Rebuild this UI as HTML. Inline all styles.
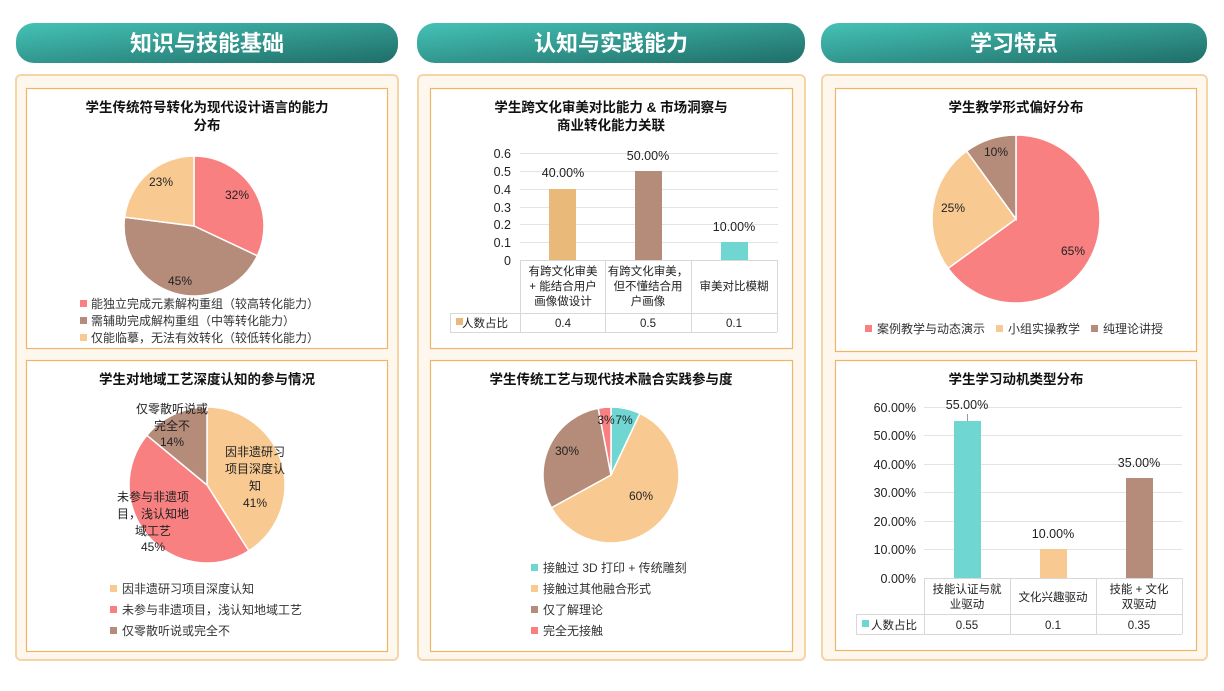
<!DOCTYPE html>
<html><head><meta charset="utf-8"><style>
body{margin:0;width:1224px;height:686px;background:#fff;font-family:"Liberation Sans","Noto Sans CJK SC",sans-serif;overflow:hidden}
svg text{font-family:"Liberation Sans","Noto Sans CJK SC",sans-serif}
</style></head><body>
<svg width="1224" height="686" viewBox="0 0 1224 686" xmlns="http://www.w3.org/2000/svg">
<defs>
<linearGradient id="hg" x1="0" y1="0" x2="1" y2="1"><stop offset="0" stop-color="#45c2b6"/><stop offset="1" stop-color="#1f6e68"/></linearGradient>
</defs>
<!-- headers -->
<g fill="url(#hg)">
<rect x="16" y="23" width="382" height="40" rx="18"/>
<rect x="417" y="23" width="388" height="40" rx="18"/>
<rect x="821" y="23" width="386" height="40" rx="18"/>
</g>
<g fill="#fff" font-size="22" font-weight="bold" text-anchor="middle">
<text x="207" y="51">知识与技能基础</text>
<text x="611" y="51">认知与实践能力</text>
<text x="1014" y="51">学习特点</text>
</g>
<!-- outer panels -->
<g fill="#fdf7ee" stroke="#f3d5a8" stroke-width="2">
<rect x="16" y="75" width="382" height="585" rx="5"/>
<rect x="418" y="75" width="387" height="585" rx="5"/>
<rect x="822" y="75" width="385" height="585" rx="5"/>
</g>
<!-- inner boxes -->
<g fill="#fff" stroke="#f0b466" stroke-width="1.2">
<rect x="26.5" y="88.5" width="361" height="260"/>
<rect x="26.5" y="360.5" width="361" height="291"/>
<rect x="430.5" y="88.5" width="362" height="260"/>
<rect x="430.5" y="360.5" width="362" height="291"/>
<rect x="835.5" y="88.5" width="361" height="263"/>
<rect x="835.5" y="360.5" width="361" height="290"/>
</g>
<g font-size="13.5" font-weight="bold" fill="#111" text-anchor="middle">
<text x="207" y="112">学生传统符号转化为现代设计语言的能力</text>
<text x="207" y="130">分布</text>
<text x="207" y="384">学生对地域工艺深度认知的参与情况</text>
<text x="611" y="112">学生跨文化审美对比能力 &amp; 市场洞察与</text>
<text x="611" y="130">商业转化能力关联</text>
<text x="611" y="384">学生传统工艺与现代技术融合实践参与度</text>
<text x="1016" y="112">学生教学形式偏好分布</text>
<text x="1016" y="384">学生学习动机类型分布</text>
</g>
<g id="pies" stroke="#fff" stroke-width="1.5"></g>
<g font-size="12" fill="#222" text-anchor="middle">
<text x="237" y="199">32%</text><text x="180" y="285">45%</text><text x="161" y="186">23%</text>
<text x="255" y="456">因非遗研习</text><text x="255" y="473">项目深度认</text><text x="255" y="490">知</text><text x="255" y="507">41%</text>
<text x="153" y="501">未参与非遗项</text><text x="153" y="518">目，浅认知地</text><text x="153" y="535">域工艺</text><text x="153" y="551">45%</text>
<text x="172" y="413">仅零散听说或</text><text x="172" y="430">完全不</text><text x="172" y="446">14%</text>
<text x="624" y="424">7%</text><text x="606" y="424">3%</text><text x="641" y="500">60%</text><text x="567" y="455">30%</text>
<text x="1073" y="255">65%</text><text x="953" y="212">25%</text><text x="996" y="156">10%</text>
</g>
<!-- legends pie1 -->
<g font-size="12" fill="#333">
<rect x="80" y="300" width="7" height="7" fill="#f88080"/><text x="91" y="308">能独立完成元素解构重组（较高转化能力）</text>
<rect x="80" y="317" width="7" height="7" fill="#b58b7a"/><text x="91" y="325">需辅助完成解构重组（中等转化能力）</text>
<rect x="80" y="334" width="7" height="7" fill="#f8ca92"/><text x="91" y="342">仅能临摹，无法有效转化（较低转化能力）</text>
<rect x="110" y="585" width="7" height="7" fill="#f8ca92"/><text x="122" y="593">因非遗研习项目深度认知</text>
<rect x="110" y="606" width="7" height="7" fill="#f88080"/><text x="122" y="614">未参与非遗项目，浅认知地域工艺</text>
<rect x="110" y="627" width="7" height="7" fill="#b58b7a"/><text x="122" y="635">仅零散听说或完全不</text>
<rect x="531" y="564" width="7" height="7" fill="#6fd6d2"/><text x="543" y="572">接触过 3D 打印 + 传统雕刻</text>
<rect x="531" y="585" width="7" height="7" fill="#f8ca92"/><text x="543" y="593">接触过其他融合形式</text>
<rect x="531" y="606" width="7" height="7" fill="#b58b7a"/><text x="543" y="614">仅了解理论</text>
<rect x="531" y="627" width="7" height="7" fill="#f88080"/><text x="543" y="635">完全无接触</text>
<rect x="865" y="325" width="7" height="7" fill="#f88080"/><text x="877" y="333">案例教学与动态演示</text>
<rect x="996" y="325" width="7" height="7" fill="#f8ca92"/><text x="1008" y="333">小组实操教学</text>
<rect x="1091" y="325" width="7" height="7" fill="#b58b7a"/><text x="1103" y="333">纯理论讲授</text>
</g>
<!-- middle bar chart -->
<g stroke="#e3e3e3" stroke-width="1">
<line x1="520" y1="153.5" x2="778" y2="153.5"/><line x1="520" y1="171.5" x2="778" y2="171.5"/><line x1="520" y1="189.5" x2="778" y2="189.5"/><line x1="520" y1="207.5" x2="778" y2="207.5"/><line x1="520" y1="224.5" x2="778" y2="224.5"/><line x1="520" y1="242.5" x2="778" y2="242.5"/>
</g>
<g font-size="12.5" fill="#222" text-anchor="end">
<text x="511" y="158">0.6</text><text x="511" y="176">0.5</text><text x="511" y="194">0.4</text><text x="511" y="212">0.3</text><text x="511" y="229">0.2</text><text x="511" y="247">0.1</text><text x="511" y="265">0</text>
</g>
<rect x="549" y="189" width="27" height="71" fill="#e9b97a"/>
<rect x="635" y="171" width="27" height="89" fill="#b58b7a"/>
<rect x="721" y="242" width="27" height="18" fill="#6fd6d2"/>
<g font-size="12.5" fill="#222" text-anchor="middle">
<text x="563" y="177">40.00%</text><text x="648" y="160">50.00%</text><text x="734" y="231">10.00%</text>
</g>
<g stroke="#d8d8d8" fill="none">
<path d="M520.5 260V332M605.5 260V332M691.5 260V332M777.5 260V332M450 313.5H777M450 332.5H777M450.5 313V332M520 260.5H777"/>
</g>
<g font-size="11.5" fill="#222" text-anchor="middle">
<text x="563" y="275">有跨文化审美</text><text x="563" y="290">+ 能结合用户</text><text x="563" y="305">画像做设计</text>
<text x="648" y="275">有跨文化审美，</text><text x="648" y="290">但不懂结合用</text><text x="648" y="305">户画像</text>
<text x="734" y="290">审美对比模糊</text>
<text x="563" y="327">0.4</text><text x="648" y="327">0.5</text><text x="734" y="327">0.1</text>
<text x="485" y="327">人数占比</text>
</g>
<rect x="456" y="318" width="7" height="7" fill="#e9b97a"/>
<!-- right bar chart -->
<g stroke="#e3e3e3">
<line x1="924" y1="407.5" x2="1182" y2="407.5"/><line x1="924" y1="435.5" x2="1182" y2="435.5"/><line x1="924" y1="464.5" x2="1182" y2="464.5"/><line x1="924" y1="492.5" x2="1182" y2="492.5"/><line x1="924" y1="521.5" x2="1182" y2="521.5"/><line x1="924" y1="549.5" x2="1182" y2="549.5"/>
</g>
<g font-size="12.5" fill="#222" text-anchor="end">
<text x="916" y="412">60.00%</text><text x="916" y="440">50.00%</text><text x="916" y="469">40.00%</text><text x="916" y="497">30.00%</text><text x="916" y="526">20.00%</text><text x="916" y="554">10.00%</text><text x="916" y="583">0.00%</text>
</g>
<rect x="954" y="421" width="27" height="157" fill="#6fd6d2"/>
<rect x="1040" y="549" width="27" height="29" fill="#f8ca92"/>
<rect x="1126" y="478" width="27" height="100" fill="#b58b7a"/>
<line x1="967.5" y1="414" x2="967.5" y2="421" stroke="#999"/>
<g font-size="12.5" fill="#222" text-anchor="middle">
<text x="967" y="409">55.00%</text><text x="1053" y="538">10.00%</text><text x="1139" y="467">35.00%</text>
</g>
<g stroke="#d8d8d8" fill="none">
<path d="M924.5 578V634M1010.5 578V634M1096.5 578V634M1182.5 578V634M856 614.5H1182M856 634.5H1182M856.5 614V634M924 578.5H1182"/>
</g>
<g font-size="11.5" fill="#222" text-anchor="middle">
<text x="967" y="593">技能认证与就</text><text x="967" y="608">业驱动</text>
<text x="1053" y="601">文化兴趣驱动</text>
<text x="1139" y="593">技能 + 文化</text><text x="1139" y="608">双驱动</text>
<text x="967" y="629">0.55</text><text x="1053" y="629">0.1</text><text x="1139" y="629">0.35</text>
<text x="894" y="629">人数占比</text>
</g>
<rect x="862" y="620" width="7" height="7" fill="#6fd6d2"/>
</svg>
<script>
var pies=[[194,226,70,[[32,'#f88080'],[45,'#b58b7a'],[23,'#f8ca92']]],
[207,485,78,[[41,'#f8ca92'],[45,'#f88080'],[14,'#b58b7a']]],
[611,475,68,[[7,'#6fd6d2'],[60,'#f8ca92'],[30,'#b58b7a'],[3,'#f88080']]],
[1016,219,84,[[65,'#f88080'],[25,'#f8ca92'],[10,'#b58b7a']]]];
var g=document.getElementById('pies'),h='';
pies.forEach(function(p){var a=0;p[3].forEach(function(s){var a0=a/100*2*Math.PI,a1=(a+s[0])/100*2*Math.PI;a+=s[0];
var x0=p[0]+p[2]*Math.sin(a0),y0=p[1]-p[2]*Math.cos(a0),x1=p[0]+p[2]*Math.sin(a1),y1=p[1]-p[2]*Math.cos(a1);
h+='<path fill="'+s[1]+'" d="M'+p[0]+' '+p[1]+'L'+x0+' '+y0+'A'+p[2]+' '+p[2]+' 0 '+(s[0]>50?1:0)+' 1 '+x1+' '+y1+'Z"/>';});});
g.innerHTML=h;
</script>
</body></html>
